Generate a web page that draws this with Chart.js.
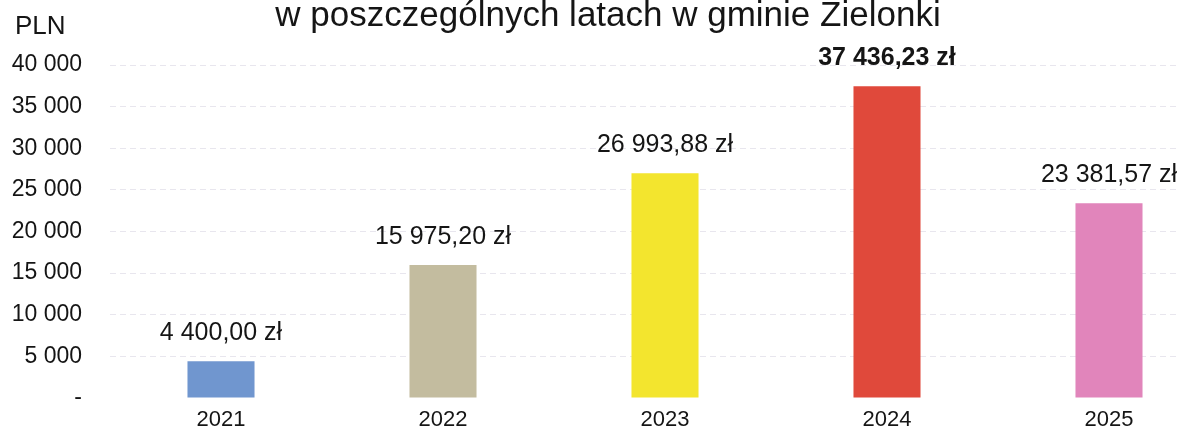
<!DOCTYPE html>
<html lang="pl">
<head>
<meta charset="utf-8">
<title>Wydatki w gminie Zielonki</title>
<script src="https://cdn.jsdelivr.net/npm/chart.js@4"></script>
<style>
  html, body { margin: 0; padding: 0; background: #fff; overflow: hidden; }
  #wrap { width: 1240px; height: 432px; }
</style>
</head>
<body>
<div id="wrap"><canvas id="chart" width="1240" height="432"></canvas></div>
<script>
const years = ["2021", "2022", "2023", "2024", "2025"];
const amounts = [4400.0, 15975.2, 26993.88, 37436.23, 23381.57];
const yTicks = [0, 5000, 10000, 15000, 20000, 25000, 30000, 35000, 40000];
const barColors = ["#7096cf", "#c3bc9f", "#f3e52e", "#e0493b", "#e185bb"];

const boldYear = "2024";
const titleText = "w poszczególnych latach w gminie Zielonki";
const FONT = "'Liberation Sans', Arial, sans-serif";

function groupThousands(n) {
  return String(n).replace(/\B(?=(\d{3})+(?!\d))/g, " ");
}

function formatPln(v) {
  const parts = v.toFixed(2).split(".");
  return groupThousands(parts[0]) + "," + parts[1] + " zł";
}

// title (cut off at the top in the scan), "PLN" unit and value labels
const textPlugin = {
  id: "texts",
  afterDatasetsDraw(chart) {
    const ctx = chart.ctx;
    ctx.save();
    ctx.fillStyle = "#151515";
    ctx.textAlign = "center";
    ctx.textBaseline = "alphabetic";
    ctx.font = "35px " + FONT;
    ctx.fillText(titleText, 608, 26);

    ctx.textAlign = "left";
    ctx.font = "26px " + FONT;
    ctx.fillText("PLN", 15, 34);

    const meta = chart.getDatasetMeta(0);
    ctx.textAlign = "center";
    meta.data.forEach((bar, i) => {
      const bold = years[i] === boldYear;
      ctx.font = (bold ? "bold " : "") + "25px " + FONT;
      ctx.fillText(formatPln(amounts[i]), bar.x, bar.y - 21);
    });
    ctx.restore();
  }
};

new Chart(document.getElementById("chart").getContext("2d"), {
  type: "bar",
  data: {
    labels: years,
    datasets: [
      {
        data: amounts,
        backgroundColor: barColors,
        borderWidth: 0,
        barPercentage: 0.302,
        categoryPercentage: 1
      }
    ]
  },
  options: {
    responsive: false,
    animation: false,
    layout: { padding: { top: 65, left: 12, right: 20, bottom: 0 } },
    plugins: {
      legend: { display: false },
      title: { display: false },
      tooltip: { enabled: false }
    },
    scales: {
      x: {
        grid: { display: false, drawTicks: false },
        border: { display: false },
        afterFit(scale) {
          scale.height = 34;
        },
        ticks: {
          color: "#151515",
          padding: 11,
          font: { family: FONT, size: 22, lineHeight: 1 }
        }
      },
      y: {
        min: yTicks[0],
        max: yTicks[yTicks.length - 1],
        afterBuildTicks(scale) {
          scale.ticks = yTicks.map((v) => ({ value: v }));
        },
        afterFit(scale) {
          scale.width = 98;
          scale.paddingTop = 0;
          scale.paddingBottom = 0;
        },
        grid: {
          color: (c) => (c.tick && c.tick.value === 0 ? "rgba(0,0,0,0)" : "#e8e6ee"),
          lineWidth: 1,
          drawTicks: false
        },
        border: { display: false, dash: [6, 4] },
        ticks: {
          color: "#151515",
          padding: 28,
          font: { family: FONT, size: 23 },
          callback: (v) => (v === 0 ? "-" : groupThousands(v))
        }
      }
    }
  },
  plugins: [textPlugin]
});
</script>
</body>
</html>
